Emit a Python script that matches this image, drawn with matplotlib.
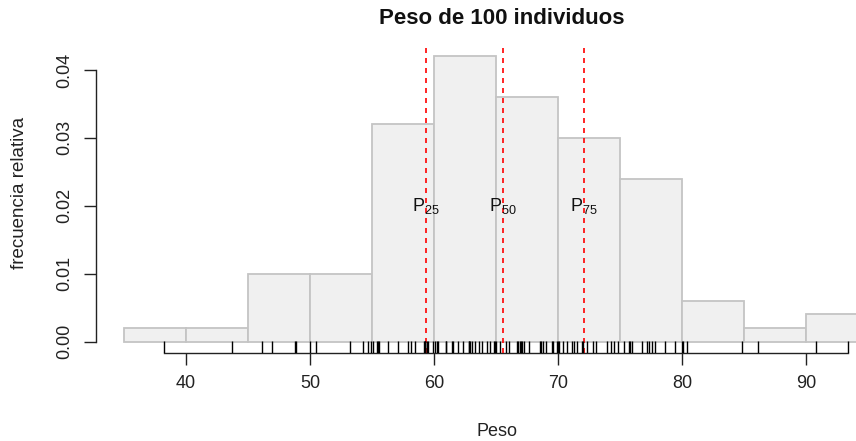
import numpy as np
import matplotlib
matplotlib.use("Agg")
import matplotlib.pyplot as plt

plt.rcParams['font.family'] = ['Liberation Sans', 'DejaVu Sans']
plt.rcParams['mathtext.fontset'] = 'custom'
plt.rcParams['mathtext.rm'] = 'Liberation Sans'
plt.rcParams['mathtext.it'] = 'Liberation Sans'

# Individual weights (read from the rug)
peso = [
    38.2,
    43.7,
    46.15, 46.9, 48.8, 48.9, 49.97,
    50.5, 53.2, 54.25, 54.65, 54.95,
    55.1, 55.4, 55.5, 55.6, 56.25, 57.12, 57.88, 58.15, 58.47, 59.2, 59.25, 59.3, 59.3, 59.4, 59.5, 59.9,
    60.08, 60.2, 60.35, 60.94, 61.0, 61.43, 61.5, 61.9, 62.3, 62.8, 62.85, 62.9, 63.1, 63.3, 63.6, 63.85,
    64.25, 64.5, 64.8, 64.9, 65.0,
    65.3, 65.8, 66.07, 66.7, 66.8, 66.9, 67.0, 67.1, 67.26, 67.69, 68.55, 68.6, 68.77, 69.03, 69.5, 69.6,
    69.9, 70.0,
    70.1, 70.38, 70.7, 71.1, 71.3, 71.55, 71.9, 72.05, 72.3, 72.85, 73.1, 73.96, 74.3, 74.5, 74.85,
    75.3, 75.7, 75.8, 76.0, 76.75, 77.2, 77.3, 77.56, 77.8, 78.6, 79.4, 79.98,
    80.1, 80.4, 84.8,
    86.15,
    90.8, 93.4,
]
breaks = [35, 40, 45, 50, 55, 60, 65, 70, 75, 80, 85, 90, 95]
percentiles = [25, 50, 75]
x_ticks = [40, 50, 60, 70, 80, 90]
y_ticks = [0.00, 0.01, 0.02, 0.03, 0.04]

peso = np.array(peso)
# R-style right-closed intervals (first one includes its left end)
counts = np.array([np.sum((peso > a) & (peso <= b)) if i > 0 else np.sum((peso >= a) & (peso <= b))
                   for i, (a, b) in enumerate(zip(breaks[:-1], breaks[1:]))])
width = np.diff(breaks)
dens = counts / (counts.sum() * width)
q = np.percentile(peso, percentiles)

W, H = 856, 441
fig = plt.figure(figsize=(W / 100, H / 100), dpi=100)
ax = fig.add_axes([96 / W, (H - 353) / H, 1 - 96 / W, (353 - 45) / H])

ax.bar(breaks[:-1], dens, width=width, align='edge', color='#F0F0F0',
       edgecolor='#C4C4C4', linewidth=1.3, zorder=1)

ymax = 0.042
ext = 0.04 * ymax
ax.set_ylim(-ext, ymax + ext)
ax.set_xlim(32.74, 94.03)

for qq, p in zip(q, percentiles):
    ax.axvline(qq, color='#FF0000', linestyle=(0, (3, 3)), linewidth=1.2, zorder=3)
    ax.text(qq, 0.02, r'$\mathrm{P}_{%d}$' % p, ha='center', va='center', fontsize=13,
            color='#111111', zorder=4)

# rug
ax.vlines(peso, 0, 0.038, transform=ax.get_xaxis_transform(), color='black',
          linewidth=1.0, zorder=5)

for s in ['top', 'right']:
    ax.spines[s].set_visible(False)
ax.spines['left'].set_bounds(0, 0.04)
ax.spines['bottom'].set_bounds(peso.min(), peso.max())
for s in ['left', 'bottom']:
    ax.spines[s].set_linewidth(1.0)
    ax.spines[s].set_color('#222222')

ax.set_xticks(x_ticks)
ax.set_xticklabels([str(t) for t in x_ticks])
ax.set_yticks(y_ticks)
ax.set_yticklabels(['%.2f' % t for t in y_ticks], rotation=90, va='center')
ax.tick_params(axis='both', direction='out', length=8.6, width=1.0, color='#222222',
               labelsize=13, labelcolor='#222222')
ax.tick_params(axis='x', pad=7)
ax.tick_params(axis='y', pad=8)

fig.text(497 / W, 1 - 432 / H, 'Peso', ha='center', va='center', fontsize=13, color='#222222')
fig.text(20 / W, 1 - 193 / H, 'frecuencia relativa', ha='center', va='center', rotation=90,
         fontsize=13.5, color='#222222')
fig.text(502 / W, 1 - 18 / H, 'Peso de 100 individuos', ha='center', va='center',
         fontsize=16, fontweight='bold', color='#111111')

fig.savefig('out.png', dpi=100)
